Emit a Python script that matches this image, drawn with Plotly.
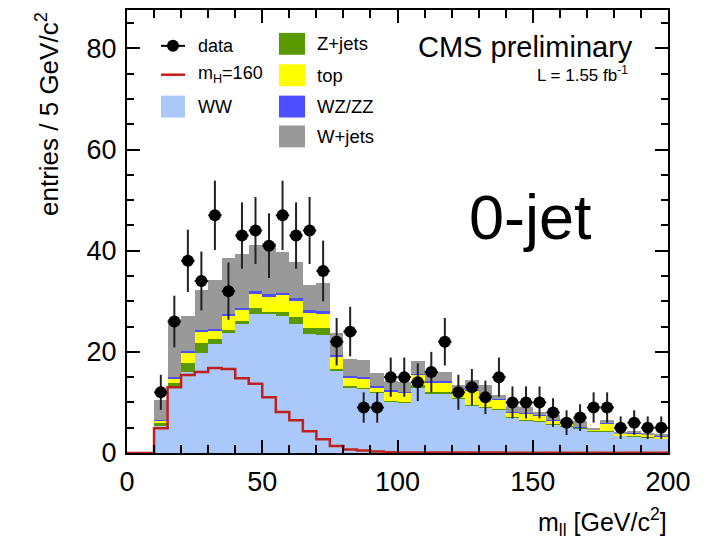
import numpy as np
import plotly.graph_objects as go

# 5 GeV bins from 0 to 200 GeV/c^2
bin_edges = list(range(0, 205, 5))
bin_centers = [e + 2.5 for e in bin_edges[:-1]]

# stacked background expectations (entries per bin)
ww = [0, 0, 5.4, 12.9, 16.0, 19.8, 21.5, 23.7, 25.6, 27.5,
      27.5, 27.0, 25.6, 23.5, 23.4, 16.3, 12.9, 12.7, 11.9, 10.2,
      9.9, 12.9, 11.8, 11.8, 10.7, 9.3, 8.9, 8.6, 7.0, 6.4,
      6.3, 5.7, 5.2, 4.9, 4.3, 4.3, 3.4, 3.3, 3.1, 2.8]
zjets = [0, 0, 0.6, 1.0, 1.8, 1.9, 1.0, 0.7, 0.5, 1.1,
         0.4, 0.8, 1.2, 1.2, 1.3, 0.4, 0.3, 0.2, 0.1, 0.1,
         0.1, 0.5, 0.2, 0.2, 0.1, 0.1, 0.1, 0.1, 0.05, 0.05,
         0.05, 0.05, 0.05, 0.05, 0.05, 0.05, 0.05, 0.05, 0.05, 0.05]
top = [0, 0, 0.4, 0.8, 2.0, 2.3, 1.7, 2.6, 2.2, 2.8,
       3.0, 3.4, 3.3, 3.0, 2.8, 2.3, 1.7, 1.9, 1.0, 1.9,
       2.0, 2.1, 2.0, 2.0, 1.8, 3.0, 2.0, 1.8, 0.95, 1.35,
       1.05, 0.75, 0.85, 0.15, 0.25, 1.55, 0.35, 0.45, 0.45, 0.35]
wzzz = [0, 0, 0.2, 0.3, 0.3, 0.4, 0.4, 0.5, 0.4, 0.6,
        0.5, 0.5, 0.5, 0.5, 0.5, 0.3, 0.3, 0.2, 0.2, 0.2,
        0.1, 0.2, 0.2, 0.2, 0.1, 0.1, 0.1, 0.2, 0.1, 0.1,
        0.1, 0.1, 0.1, 0.1, 0.1, 0.1, 0.1, 0.1, 0.1, 0.1]
wjets = [0, 0, 3.8, 11.5, 7.0, 7.8, 9.6, 11.1, 10.7, 9.1,
         10.2, 8.1, 7.2, 5.0, 5.7, 4.4, 3.4, 3.3, 2.7, 1.8,
         1.9, 2.5, 1.9, 1.9, 0.7, 1.9, 2.3, 0.7, 1.2, 1.1,
         0.6, 0.9, 0.6, 1.1, 0.3, 0.5, 0.3, 0.4, 0.3, 0.4]

# Higgs signal, m_H = 160 GeV/c^2
higgs160 = [0, 0, 4.9, 13.0, 15.4, 16.0, 16.8, 16.6, 14.8, 13.7,
            11.0, 8.1, 6.5, 4.3, 2.7, 1.4, 0.7, 0.5, 0.3, 0.15,
            0.1, 0.1, 0.1, 0.1, 0.1, 0.08, 0.08, 0.08, 0.07, 0.07,
            0.06, 0.06, 0.06, 0.05, 0.05, 0.05, 0.05, 0.05, 0.05, 0.05]

# observed events
data = [None, None, 12, 26, 38, 34, 47, 32, 43, 44,
        41, 47, 43, 44, 36, 22, 24, 9, 9, 15,
        15, 14, 16, 22, 12, 13, 11, 15, 10, 10,
        10, 8, 6, 7, 9, 9, 5, 6, 5, 5]
data_err = [None if d is None else float(np.sqrt(d)) for d in data]

samples = [
    ("WW", ww, "#abc8fb"),
    ("Z+jets", zjets, "#5a9800"),
    ("top", top, "#ffff00"),
    ("WZ/ZZ", wzzz, "#4b4fff"),
    ("W+jets", wjets, "#999999"),
]

FONT = "Liberation Sans, Arial, Helvetica, sans-serif"
W, H = 710, 545
L, R, T, B = 127, 668, 8, 453  # plot frame in pixels


def px(xp):
    return (xp - L) / (R - L)


def py(yp):
    return (B - yp) / (B - T)


fig = go.Figure()

for name, vals, color in samples:
    fig.add_trace(go.Bar(
        x=bin_centers, y=vals, width=5, name=name,
        marker=dict(color=color, line=dict(width=0)),
        showlegend=False, hoverinfo="skip",
    ))

fig.add_trace(go.Scatter(
    x=bin_edges, y=higgs160 + [higgs160[-1]], mode="lines",
    line=dict(shape="hv", color="#c0201c", width=2.5),
    showlegend=False,
))

fig.add_trace(go.Scatter(
    x=bin_centers, y=data, mode="markers",
    marker=dict(color="black", size=12),
    error_y=dict(type="data", array=data_err, thickness=2, width=0, color="#222222"),
    error_x=dict(type="constant", value=2.5, thickness=2, width=0, color="#222222"),
    showlegend=False,
))

axis_common = dict(
    showline=True, linecolor="black", linewidth=2, mirror="ticks",
    ticks="inside", tickcolor="black", tickwidth=1.5,
    showgrid=False, zeroline=False,
    tickfont=dict(family=FONT, size=27, color="black"),
)

fig.update_layout(
    width=W, height=H,
    margin=dict(l=L, r=W - R, t=T, b=H - B),
    paper_bgcolor="white", plot_bgcolor="white",
    barmode="stack", bargap=0,
    showlegend=False,
    xaxis=dict(range=[0, 200], tickvals=[0, 50, 100, 150, 200], ticklen=13,
               ticklabelstandoff=4,
               minor=dict(dtick=10, ticklen=8, ticks="inside", tickcolor="black", tickwidth=1.5),
               **axis_common),
    yaxis=dict(range=[0, 87.6], tickvals=[0, 20, 40, 60, 80], ticklen=13,
               ticklabelstandoff=3,
               minor=dict(dtick=5, ticklen=7, ticks="inside", tickcolor="black", tickwidth=1.5),
               **axis_common),
)

ann = []
shapes = []

# axis titles
ann.append(dict(text="entries / 5 GeV/c<sup>2</sup>", textangle=-90,
                x=px(47), y=py(8), xanchor="center", yanchor="top",
                font=dict(family=FONT, size=26, color="black")))
ann.append(dict(text="m<sub>ll</sub> [GeV/c<sup>2</sup>]",
                x=px(669), y=py(522), xanchor="right", yanchor="middle",
                font=dict(family=FONT, size=25, color="black")))

# labels inside the frame
ann.append(dict(text="CMS preliminary", x=px(416), y=py(45), xanchor="left", yanchor="middle",
                font=dict(family=FONT, size=29, color="black")))
ann.append(dict(text="L = 1.55 fb<sup>-1</sup>", x=px(630), y=py(72), xanchor="right", yanchor="middle",
                font=dict(family=FONT, size=17, color="black")))
ann.append(dict(text="0-jet", x=px(467), y=py(216), xanchor="left", yanchor="middle",
                font=dict(family=FONT, size=63, color="black")))

# legend, first column
ann.append(dict(text="data", x=px(196), y=py(44), xanchor="left", yanchor="middle",
                font=dict(family=FONT, size=18, color="black")))
shapes.append(dict(type="line", xref="paper", yref="paper", x0=px(161), x1=px(185), y0=py(44), y1=py(44),
                   line=dict(color="black", width=2)))
shapes.append(dict(type="circle", xref="paper", yref="paper", x0=px(167), x1=px(179), y0=py(38), y1=py(50),
                   fillcolor="black", line=dict(width=0)))
ann.append(dict(text="m<sub>H</sub>=160", x=px(196), y=py(73), xanchor="left", yanchor="middle",
                font=dict(family=FONT, size=18, color="black")))
shapes.append(dict(type="line", xref="paper", yref="paper", x0=px(161), x1=px(185), y0=py(73), y1=py(73),
                   line=dict(color="#c0201c", width=2.5)))
ann.append(dict(text="WW", x=px(196), y=py(105), xanchor="left", yanchor="middle",
                font=dict(family=FONT, size=18, color="black")))
shapes.append(dict(type="rect", xref="paper", yref="paper", x0=px(161), x1=px(185), y0=py(94), y1=py(116),
                   fillcolor=samples[0][2], line=dict(width=0)))

# legend, second column
col2 = [("Z+jets", samples[1][2], 42), ("top", samples[2][2], 73.5),
        ("WZ/ZZ", samples[3][2], 105), ("W+jets", samples[4][2], 135)]
for label, color, yc in col2:
    shapes.append(dict(type="rect", xref="paper", yref="paper", x0=px(279), x1=px(305),
                       y0=py(yc - 11), y1=py(yc + 11), fillcolor=color, line=dict(width=0)))
    ann.append(dict(text=label, x=px(315), y=py(yc), xanchor="left", yanchor="middle",
                    font=dict(family=FONT, size=18.5, color="black")))

for a in ann:
    a.update(xref="paper", yref="paper", showarrow=False)

fig.update_layout(annotations=ann, shapes=shapes)

fig.write_html("out.html")
